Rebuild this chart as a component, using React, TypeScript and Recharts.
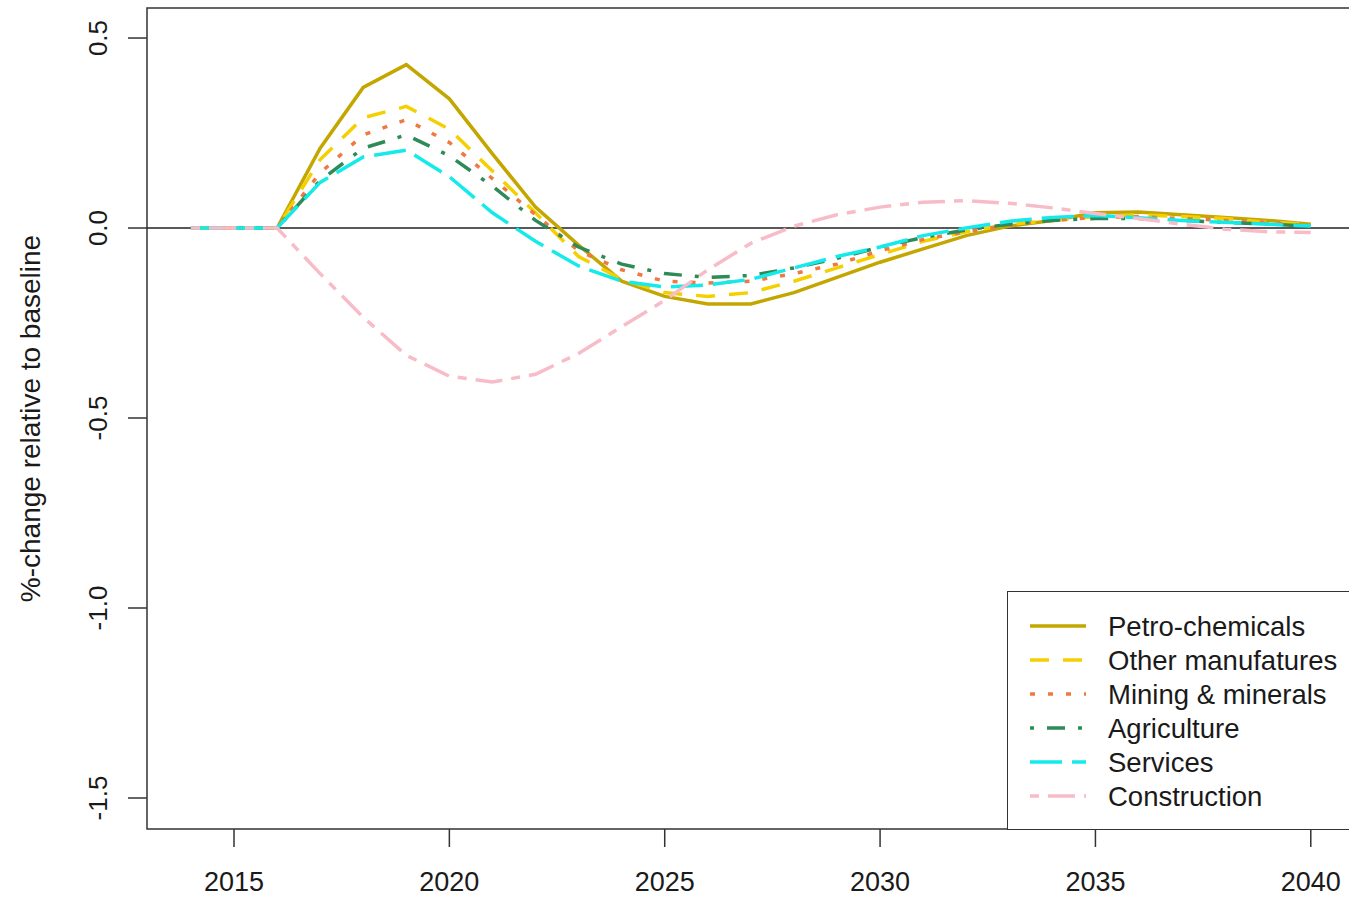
import React from 'react';
import {
    LineChart,
    Line,
    XAxis,
    YAxis,
    ReferenceLine,
    ReferenceArea,
    Legend
} from 'recharts';

// years on the x axis
const years = [
    2014, 2015, 2016, 2017, 2018, 2019, 2020, 2021, 2022, 2023, 2024, 2025, 2026, 2027,
    2028, 2029, 2030, 2031, 2032, 2033, 2034, 2035, 2036, 2037, 2038, 2039, 2040
];

const petroChemicals = [
    0, 0, 0, 0.21, 0.37, 0.43, 0.34, 0.195, 0.055, -0.045, -0.14, -0.18, -0.2, -0.2,
    -0.17, -0.13, -0.09, -0.055, -0.02, 0.005, 0.02, 0.04, 0.042, 0.035, 0.028, 0.02, 0.01
];
const otherManufatures = [
    0, 0, 0, 0.18, 0.29, 0.32, 0.26, 0.15, 0.04, -0.075, -0.135, -0.17, -0.18, -0.17,
    -0.14, -0.105, -0.07, -0.035, -0.01, 0.01, 0.02, 0.03, 0.035, 0.03, 0.025, 0.015, 0.01
];
const miningMinerals = [
    0, 0, 0, 0.145, 0.245, 0.285, 0.225, 0.13, 0.035, -0.06, -0.11, -0.14, -0.145, -0.14,
    -0.12, -0.095, -0.06, -0.03, -0.01, 0.008, 0.02, 0.028, 0.03, 0.025, 0.02, 0.015, 0.005
];
const agriculture = [
    0, 0, 0, 0.125, 0.21, 0.245, 0.19, 0.11, 0.02, -0.05, -0.095, -0.12, -0.13, -0.125,
    -0.105, -0.08, -0.05, -0.025, -0.005, 0.01, 0.02, 0.025, 0.025, 0.02, 0.015, 0.01, 0.005
];
const services = [
    0, 0, 0, 0.12, 0.187, 0.205, 0.135, 0.04, -0.035, -0.1, -0.14, -0.155, -0.15, -0.135,
    -0.105, -0.075, -0.05, -0.02, 0, 0.018, 0.028, 0.033, 0.027, 0.02, 0.015, 0.01, 0.005
];
const construction = [
    0, 0, 0, -0.12, -0.235, -0.335, -0.39, -0.405, -0.385, -0.33, -0.26, -0.19, -0.11, -0.04,
    0.005, 0.035, 0.055, 0.068, 0.072, 0.065, 0.053, 0.038, 0.025, 0.01, -0.003, -0.01, -0.012
];

const xTicks = [2015, 2020, 2025, 2030, 2035, 2040];
const yTicks = [-1.5, -1.0, -0.5, 0.0, 0.5];

const X_DOMAIN: [number, number] = [2012.98, 2040.98];
const Y_DOMAIN: [number, number] = [-1.5816, 0.579];

const SERIES = [
    { key: 'petro', name: 'Petro-chemicals', values: petroChemicals, color: '#C4A600', dash: undefined },
    { key: 'other', name: 'Other manufatures', values: otherManufatures, color: '#F5D000', dash: '19 14' },
    { key: 'mining', name: 'Mining & minerals', values: miningMinerals, color: '#EE7942', dash: '5 13' },
    { key: 'agri', name: 'Agriculture', values: agriculture, color: '#2E8B57', dash: '4 13 18 13' },
    { key: 'services', name: 'Services', values: services, color: '#14EAEA', dash: '32 10' },
    { key: 'constr', name: 'Construction', values: construction, color: '#F8BCC8', dash: '9 9 27 9' }
];

const data = years.map((year, i) => {
    const row: Record<string, number> = { year };
    SERIES.forEach(s => { row[s.key] = s.values[i]; });
    return row;
});

const FONT = '"Liberation Sans", Arial, sans-serif';
const INK = '#1a1a1a';

const XTick = (props: any) => {
    const { x, y, payload } = props;
    return (
        <text x={x} y={y + 33} textAnchor="middle" dominantBaseline="central"
            fontFamily={FONT} fontSize={27} fill={INK}>
            {payload.value}
        </text>
    );
};

const YTick = (props: any) => {
    const { x, y, payload } = props;
    return (
        <text transform={`translate(${x - 28},${y}) rotate(-90)`} textAnchor="middle"
            dominantBaseline="central" fontFamily={FONT} fontSize={26} fill={INK}>
            {Number(payload.value).toFixed(1)}
        </text>
    );
};

const YTitle = (props: any) => {
    const vb = props.viewBox || { x: 0, y: 8, width: 147, height: 821 };
    return (
        <text transform={`translate(${vb.x + 30},${vb.y + vb.height / 2}) rotate(-90)`}
            textAnchor="middle" dominantBaseline="central" fontFamily={FONT} fontSize={28} fill={INK}>
            %-change relative to baseline
        </text>
    );
};

const LegendBox = () => (
    <div style={{
        width: '100%', height: '100%', boxSizing: 'border-box',
        border: '1.5px solid #333', background: '#fff'
    }}>
        <svg width={380} height={236} style={{ display: 'block' }}>
            {SERIES.map((s, i) => {
                const cy = 34 + i * 34;
                return (
                    <g key={s.key}>
                        <line x1={22} x2={78} y1={cy} y2={cy} stroke={s.color} strokeWidth={3.5}
                            strokeDasharray={s.dash} />
                        <text x={100} y={cy} dominantBaseline="central" fontFamily={FONT}
                            fontSize={27.5} fill={INK}>
                            {s.name}
                        </text>
                    </g>
                );
            })}
        </svg>
    </div>
);

export default function App() {
    return (
        <div style={{ position: 'absolute', left: 0, top: 0, width: 1349, height: 898, overflow: 'hidden', background: '#fff' }}>
            <LineChart width={1349} height={898} data={data}
                margin={{ top: 8, right: -4, bottom: 0, left: 0 }}>
                <XAxis dataKey="year" type="number" domain={X_DOMAIN} ticks={xTicks}
                    allowDataOverflow axisLine={false} tickSize={18} height={69}
                    tickLine={{ stroke: '#333', strokeWidth: 1.5 }} tick={<XTick />} interval={0} />
                <YAxis type="number" domain={Y_DOMAIN} ticks={yTicks} allowDataOverflow
                    axisLine={false} tickSize={19} width={147}
                    tickLine={{ stroke: '#333', strokeWidth: 1.5 }} tick={<YTick />} interval={0}
                    label={{ content: (p: any) => <YTitle {...p} /> }} />
                <ReferenceArea x1={X_DOMAIN[0]} x2={X_DOMAIN[1]} y1={Y_DOMAIN[0]} y2={Y_DOMAIN[1]}
                    fill="none" fillOpacity={0} stroke="#333" strokeWidth={1.5} ifOverflow="visible" />
                <ReferenceLine y={0} stroke="#222" strokeWidth={1.5} />
                {SERIES.map(s => (
                    <Line key={s.key} dataKey={s.key} name={s.name} type="linear" stroke={s.color}
                        strokeWidth={3.5} strokeDasharray={s.dash} dot={false} activeDot={false}
                        isAnimationActive={false} />
                ))}
                <Legend layout="horizontal" verticalAlign="middle" align="center"
                    wrapperStyle={{ left: 1007, top: 591, width: 380, height: 239 }}
                    content={() => <LegendBox />} />
            </LineChart>
        </div>
    );
}
